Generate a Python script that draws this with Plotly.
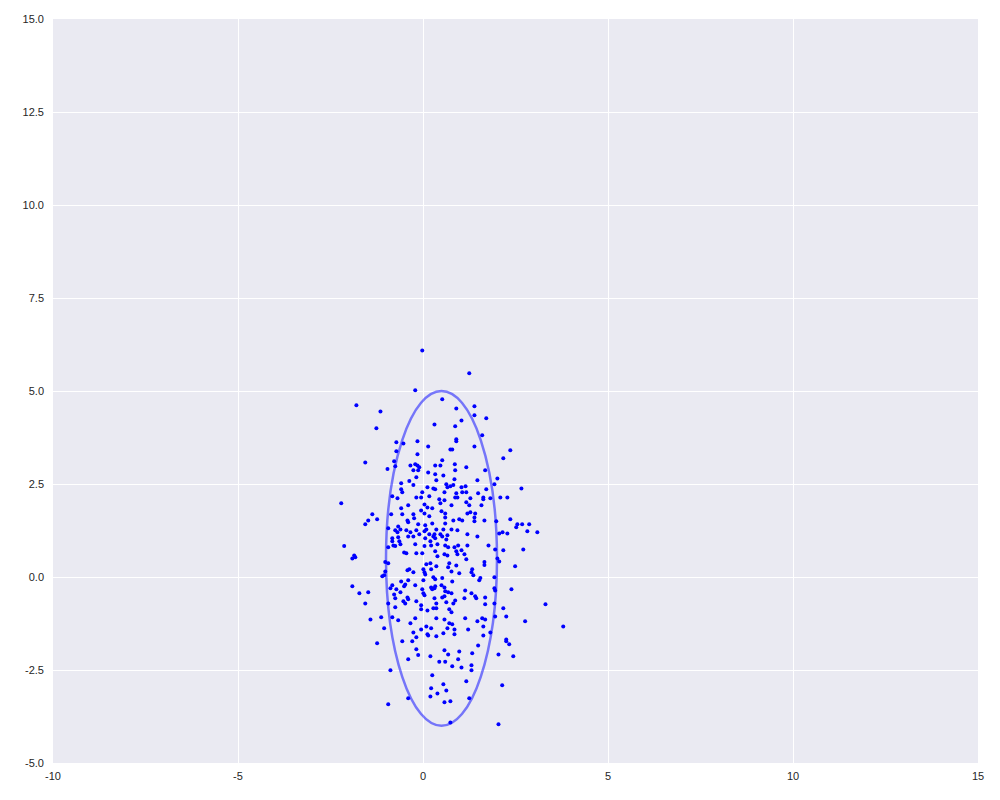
import plotly.graph_objects as go

# pontos (leitura da imagem)
pts_x = [
    -1.80, -1.15, -1.26,
    -0.02, 1.25, -0.21, 0.52, 0.90, 1.39, 1.39, 1.04, 1.71, 0.31, 0.87, 0.90, 1.60,
    -1.56, -0.96, -2.21, -1.37, -1.48, -1.24, -1.56,
    -0.72, -0.53, -0.72, -0.78, -0.75, -0.34, -0.59, -0.37, -0.59, -0.56, -0.83, -0.69, -0.40, -0.59,
    -0.86, -0.56, -0.42, -0.40, -0.67, -0.94, -0.61, -0.75, -0.69, -0.45, -0.34, -0.40, -0.83, -0.67,
    -0.15, 0.14, 0.74, 0.79, 0.90, 1.39, -0.15, 0.52, 0.33, 0.47, 0.86, 1.17, -0.21, -0.15, -0.10,
    -0.26, -0.13, 0.14, 0.87, 1.68, 0.33, 0.55, -0.18, 0.36, 0.85, 1.47, -0.26, 0.63, 0.74, 0.82,
    0.66, 1.04, 1.15, 0.12, 0.28, 0.33, -0.02, 0.58, 0.90, 1.06, 1.17, 1.49, 1.71, -0.18, -0.05,
    0.17, 0.44, 0.58, 0.87, 0.93, 1.28, 1.17, 1.63, 1.63, 1.82, 0.04, 0.47, 0.77, 1.25, 1.58,
    0.12, 0.25, -0.05, -0.26, 0.04, 0.50, 0.60, 1.20, 1.28, 1.41, 1.39, 0.17, 0.60, 0.98, 1.06,
    0.82, 1.66, 1.39, -0.24, -0.13, 0.06, 0.25, 0.60, 0.36, -0.18, 0.09, 0.04, 0.55, 0.77, 0.93,
    0.17, 0.28, 0.31, 0.47, 0.52, 0.66, -0.10, -0.26, 1.20, 1.47, 0.06, 0.33, 0.63,
    2.36, 2.17, 2.01, 1.93, 2.66, 2.09, 2.28, 1.98, 2.36, 2.55, 2.52, 2.68, 2.87, 2.06, 2.15,
    2.28, 2.82, 3.09,
    -2.13, -1.86, -1.91, -1.83, -0.94, -0.83, -0.75, -0.64, -0.61, -0.80, -0.51, -0.45, -1.02,
    -0.94, -1.02, -1.10, -1.05, -0.37, -0.42, -1.91, -1.72, -1.48, -1.56, -0.83, -0.88, -0.72,
    -0.59, -0.51, -0.48, -0.40, -0.78, -0.61, -0.75, -0.42, -0.40, -0.53, -0.48, -0.94, -0.75,
    -1.13, -1.42, -0.83, -0.67, -1.05, -0.34,
    -0.21, 0.04, 0.20, 0.22, 0.39, 0.33, 0.60, 0.68, 0.85, 0.95, 1.04, 1.20, 0.90, 0.93, 0.58,
    0.66, 1.12, -0.18, -0.02, 0.39, 1.17, 1.77, 1.66, 1.66, 0.09, 0.20, 0.36, 0.71, 0.68, 0.90,
    0.01, 0.04, 0.06, 0.22, 0.77, 0.98, 1.33, 1.31, 1.36, -0.26, 0.28, 0.33, 0.52, 0.79, 1.55,
    1.52, -0.21, 0.01, 0.50, 0.22, 0.31, 0.25, 0.33, 0.58, 0.60, -0.02, 0.01, 0.04, 0.68, 0.77,
    1.14, 1.31, 1.41, 1.44, 1.68, 0.58, 0.52, 1.12, 0.31, -0.18, 0.63, 0.87, 0.36, -0.05, 1.68,
    0.12, 0.28, 0.36, 0.71, 0.77, -0.05, 0.82, -0.21, 0.36, 0.58, 1.14, 1.47, 1.60, 1.68, 0.71,
    0.79, 0.09, -0.05, 0.22, 0.66, 0.85, 1.22, 1.63, 1.63, -0.26, 0.12, 0.14, 0.36, 0.55, 0.85,
    1.82, -0.18,
    1.95, 2.17, 2.71, 2.01, 2.06, 2.49, 1.93, 1.93, 1.95, 2.39, 1.93, 3.31, 2.17, 1.95, 2.25,
    2.76, 3.79, 2.25,
    -1.24, -0.56, -0.40, -0.88, -0.40, -0.94,
    -0.29, -0.18, -0.13, 0.20, 0.58, 0.68, 0.98, 1.33, 1.49, 0.44, 0.60, 0.79, 0.95, 1.04, 1.31,
    1.31, 0.25, 1.17, 0.55, 0.22, 0.63, 0.39, 0.20, 1.25, 0.58, 0.74, 0.74,
    2.25, 2.33, 2.04, 2.44, 2.14, 2.04,
]
pts_y = [
    4.62, 4.45, 4.00,
    6.09, 5.48, 5.02, 4.78, 4.53, 4.59, 4.35, 4.21, 4.27, 4.10, 4.05, 3.70, 3.81,
    3.08, 2.90, 1.98, 1.69, 1.52, 1.55, 1.42,
    3.62, 3.59, 3.38, 3.11, 2.98, 3.00, 2.52, 2.58, 2.36, 2.28, 2.17, 2.12, 1.93, 1.85,
    1.69, 1.69, 1.52, 1.47, 1.36, 1.31, 1.28, 1.26, 1.20, 1.26, 1.20, 1.09, 1.04, 1.07,
    3.65, 3.51, 3.43, 3.43, 3.65, 3.51, 3.30, 3.14, 3.00, 3.00, 3.03, 2.95, 3.03, 3.00, 2.95,
    2.87, 2.87, 2.81, 2.87, 2.87, 2.76, 2.73, 2.68, 2.60, 2.63, 2.60, 2.47, 2.49, 2.44, 2.47,
    2.41, 2.41, 2.44, 2.41, 2.38, 2.36, 2.28, 2.28, 2.25, 2.28, 2.28, 2.25, 2.36, 2.14, 2.14,
    2.17, 2.09, 2.06, 2.14, 2.14, 2.12, 2.01, 2.14, 2.09, 2.12, 1.95, 1.98, 1.93, 1.93, 1.93,
    1.87, 1.85, 1.79, 1.69, 1.71, 1.77, 1.71, 1.71, 1.74, 1.71, 1.60, 1.63, 1.60, 1.55, 1.52,
    1.52, 1.52, 1.50, 1.58, 1.42, 1.39, 1.44, 1.44, 1.28, 1.26, 1.28, 1.23, 1.28, 1.28, 1.26,
    1.15, 1.09, 1.15, 1.15, 1.09, 1.12, 1.15, 1.09, 1.15, 1.09, 1.04, 1.04, 1.01,
    3.41, 3.19, 2.65, 2.49, 2.38, 2.14, 2.14, 1.50, 1.55, 1.42, 1.34, 1.42, 1.42, 1.17, 1.20,
    1.17, 1.23, 1.20,
    0.83, 0.58, 0.50, 0.53, 0.80, 0.96, 0.83, 0.96, 0.88, 0.85, 0.66, 0.64, 0.40,
    0.37, 0.15, 0.02, 0.05, 0.21, 0.18, -0.25, -0.44, -0.41, -0.71, -0.22, -0.30, -0.33,
    -0.12, -0.25, -0.20, -0.09, -0.47, -0.41, -0.57, -0.55, -0.60, -0.65, -0.71, -0.71, -0.81,
    -1.08, -1.14, -1.08, -1.16, -1.38, -1.24,
    0.88, 0.83, 0.96, 0.85, 0.88, 0.69, 0.85, 0.80, 0.80, 0.85, 0.72, 0.85, 0.69, 0.61, 0.61,
    0.58, 0.61, 0.64, 0.64, 0.56, 0.48, 0.85, 0.40, 0.32, 0.34, 0.37, 0.29, 0.37, 0.26, 0.31,
    0.21, 0.13, 0.07, 0.21, 0.15, 0.10, 0.21, 0.13, 0.05, 0.13, -0.01, -0.06, -0.03, -0.12, -0.03,
    -0.09, -0.22, -0.09, -0.22, -0.28, -0.30, -0.33, -0.25, -0.28, -0.38, -0.33, -0.44, -0.49, -0.41, -0.44,
    -0.36, -0.44, -0.52, -0.57, -0.55, -0.52, -0.55, -0.57, -0.57, -0.65, -0.68, -0.63, -0.71, -0.76, -0.73,
    -0.90, -0.84, -0.84, -0.87, -0.95, -0.87, -0.71, -1.11, -1.11, -1.14, -1.11, -1.19, -1.11, -1.14, -1.24,
    -1.27, -1.33, -1.41, -1.38, -1.38, -1.41, -1.41, -1.33, -1.57, -1.49, -1.54, -1.57, -1.59, -1.51, -1.54,
    -1.49, -1.62,
    0.74, 0.72, 0.74, 0.50, 0.42, 0.29, -0.01, -0.30, -0.36, -0.33, -0.71, -0.73, -0.84, -1.06, -1.06,
    -1.19, -1.33, -1.68,
    -1.78, -1.73, -2.21, -2.51, -3.26, -3.42,
    -1.73, -1.94, -2.10, -2.13, -1.97, -2.08, -2.00, -2.05, -1.84, -2.28, -2.28, -2.40, -2.21, -2.43, -2.37,
    -2.51, -2.64, -2.80, -2.88, -2.99, -3.05, -3.13, -3.21, -3.26, -3.37, -3.34, -3.91,
    -1.73, -1.81, -2.08, -2.13, -2.91, -3.96,
]

# elipse
centro = (0.5, 0.5)
semi_x = 1.5
semi_y = 4.5

x_ticks = [-10, -5, 0, 5, 10, 15]
x_labels = ['-10', '-5', '0', '5', '10', '15']
y_ticks = [-5.0, -2.5, 0.0, 2.5, 5.0, 7.5, 10.0, 12.5, 15.0]
y_labels = ['-5.0', '-2.5', '0.0', '2.5', '5.0', '7.5', '10.0', '12.5', '15.0']

fig = go.Figure(go.Scatter(
    x=pts_x, y=pts_y, mode='markers',
    marker=dict(color='#0000ff', size=4, line=dict(width=0)),
    hoverinfo='x+y'
))

fig.add_shape(
    type='circle', xref='x', yref='y',
    x0=centro[0] - semi_x, x1=centro[0] + semi_x,
    y0=centro[1] - semi_y, y1=centro[1] + semi_y,
    line=dict(color='rgba(0,0,255,0.5)', width=2.5),
    layer='above'
)

eixo = dict(
    showgrid=True, gridcolor='white', gridwidth=1.3,
    zeroline=False, showline=False, ticks='', automargin=False,
    tickfont=dict(family='Liberation Sans, Arial', size=11, color='#262626')
)

# a página tem 8px de margem no body
fig.update_layout(
    width=1000, height=800,
    paper_bgcolor='white', plot_bgcolor='#eaeaf2',
    margin=dict(l=45, r=30, t=11, b=45),
    showlegend=False,
    xaxis=dict(eixo, range=[-10, 15], tickvals=x_ticks, ticktext=x_labels,
               ticklabelstandoff=5),
    yaxis=dict(eixo, range=[-5, 15], tickvals=y_ticks, ticktext=y_labels,
               ticklabelstandoff=8),
)

fig.write_html("out.html")
